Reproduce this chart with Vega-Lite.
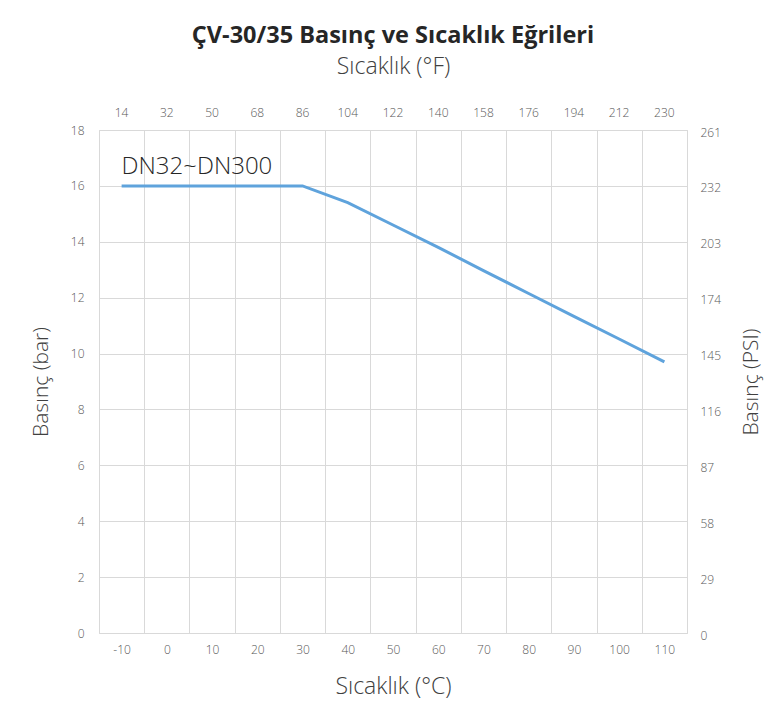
{
  "$schema": "https://vega.github.io/schema/vega-lite/v6.json",
  "width": 588,
  "height": 503,
  "autosize": {"type": "none"},
  "padding": {"left": 99, "top": 130, "right": 84, "bottom": 87},
  "background": "white",
  "title": {
    "text": "ÇV-30/35 Basınç ve Sıcaklık Eğrileri",
    "font": "Open Sans",
    "fontSize": 23.5,
    "fontWeight": "bold",
    "color": "#262626",
    "anchor": "middle",
    "offset": 8
  },
  "config": {
    "view": {"stroke": "#d9d9d9", "strokeWidth": 1},
    "font": "Open Sans",
    "axis": {
      "labelFont": "Open Sans",
      "labelFontSize": 12,
      "labelFontWeight": 300,
      "labelColor": "#595959",
      "titleFont": "Open Sans",
      "titleFontSize": 21,
      "titleFontWeight": 300,
      "titleColor": "#404040",
      "gridColor": "#d9d9d9",
      "gridWidth": 1,
      "ticks": false,
      "domain": false
    }
  },
  "resolve": {"axis": {"x": "independent", "y": "independent"}},
  "layer": [
    {
      "data": {
        "values": [
          {"t": -10, "p": 16},
          {"t": 0, "p": 16},
          {"t": 10, "p": 16},
          {"t": 20, "p": 16},
          {"t": 30, "p": 16},
          {"t": 40, "p": 15.4},
          {"t": 50, "p": 14.6},
          {"t": 60, "p": 13.8},
          {"t": 70, "p": 12.97},
          {"t": 80, "p": 12.15},
          {"t": 90, "p": 11.33},
          {"t": 100, "p": 10.52},
          {"t": 110, "p": 9.7}
        ]
      },
      "mark": {"type": "line", "color": "#5fa3dc", "strokeWidth": 3},
      "encoding": {
        "x": {
          "field": "t",
          "type": "ordinal",
          "bandPosition": 0.5,
          "scale": {"type": "band", "domain": [-10, 0, 10, 20, 30, 40, 50, 60, 70, 80, 90, 100, 110], "paddingInner": 0, "paddingOuter": 0},
          "axis": {"orient": "bottom", "title": "Sıcaklık (°C)", "titleFontSize": 23, "labelAngle": 0, "labelPadding": 11, "titlePadding": 20, "grid": true, "tickBand": "extent"}
        },
        "y": {
          "field": "p",
          "type": "quantitative",
          "scale": {"domain": [0, 18], "nice": false},
          "axis": {"orient": "left", "title": "Basınç (bar)", "values": [0, 2, 4, 6, 8, 10, 12, 14, 16, 18], "labelPadding": 15, "titlePadding": 19, "grid": true}
        }
      }
    },
    {
      "data": {"values": [{"t": -10, "p": 16.68, "label": "DN32~DN300"}]},
      "mark": {"type": "text", "align": "left", "baseline": "middle", "fontSize": 24, "fontWeight": 300, "font": "Open Sans", "color": "#262626"},
      "encoding": {
        "x": {
          "field": "t",
          "type": "ordinal",
          "bandPosition": 0.5,
          "axis": {"orient": "top", "title": "Sıcaklık (°F)", "titleFontSize": 23, "labelAngle": 0, "labelPadding": 11, "titlePadding": 28, "grid": false, "labelExpr": "format(datum.value * 1.8 + 32, 'd')"}
        },
        "y": {
          "field": "p",
          "type": "quantitative",
          "axis": {"orient": "right", "title": "Basınç (PSI)", "titleAngle": 270, "titleBaseline": "top", "values": [0, 2, 4, 6, 8, 10, 12, 14, 16, 18], "labelPadding": 13, "titlePadding": 20, "labelOffset": 2, "grid": false, "labelExpr": "format(datum.value * 14.5, 'd')"}
        },
        "text": {"field": "label"}
      }
    }
  ]
}
